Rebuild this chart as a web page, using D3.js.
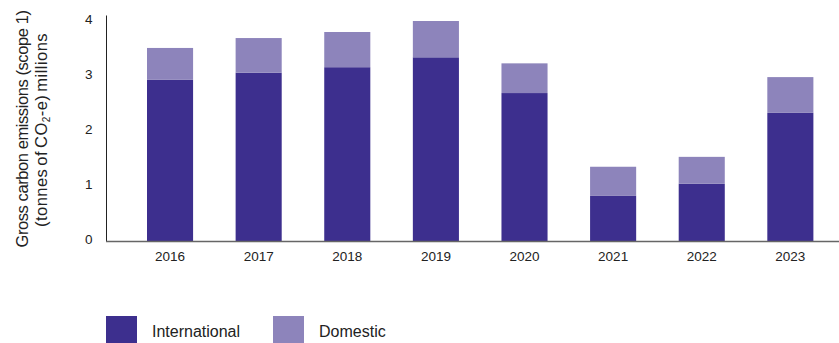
<!DOCTYPE html>
<html>
<head>
<meta charset="utf-8">
<script src="https://cdn.jsdelivr.net/npm/d3@7"></script>
<style>
  body { margin: 0; background: #fff; }
  svg { font-family: "Liberation Sans", Arial, sans-serif; }
</style>
</head>
<body>
<svg id="chart" width="839" height="343"></svg>
<script>
const years = ["2016", "2017", "2018", "2019", "2020", "2021", "2022", "2023"];
const international = [2.93, 3.06, 3.16, 3.34, 2.69, 0.82, 1.04, 2.33];
const domestic = [0.58, 0.63, 0.64, 0.66, 0.54, 0.53, 0.49, 0.65];
const yTicks = [0, 1, 2, 3, 4];
const seriesNames = ["International", "Domestic"];
const colors = ["#3d2f8e", "#8d84bb"];

const svg = d3.select("#chart");

const x = d3.scaleBand()
  .domain(years)
  .range([102.7, 857.7])
  .paddingInner(0.48)
  .paddingOuter(0.5);

const y = d3.scaleLinear()
  .domain([0, 4])
  .range([241, 21]);

const rows = years.map((yr, i) => ({ year: yr, International: international[i], Domestic: domestic[i] }));
const stacked = d3.stack().keys(seriesNames)(rows);

// bars
svg.append("g").selectAll("g")
  .data(stacked)
  .join("g")
  .attr("fill", (d, i) => colors[i])
  .selectAll("rect")
  .data(d => d)
  .join("rect")
  .attr("x", d => x(d.data.year))
  .attr("y", d => y(d[1]))
  .attr("height", d => y(d[0]) - y(d[1]))
  .attr("width", x.bandwidth());

// y axis
const yAxis = d3.axisLeft(y).tickValues(yTicks).tickFormat(d3.format("d")).tickSize(0).tickPadding(14);
const gy = svg.append("g")
  .attr("transform", "translate(106.5,-1.5)")
  .call(yAxis);
gy.select(".domain").remove();
gy.selectAll("text")
  .attr("font-size", 13.5)
  .attr("fill", "#222")
  .attr("font-family", "Liberation Sans, Arial, sans-serif");

svg.append("line")
  .attr("x1", 106.5).attr("x2", 106.5)
  .attr("y1", 15.5).attr("y2", 241.5)
  .attr("stroke", "#222").attr("stroke-width", 1);

// x axis
const xAxis = d3.axisBottom(x).tickSize(0).tickPadding(10);
const gx = svg.append("g")
  .attr("transform", "translate(0,241.5)")
  .call(xAxis);
gx.select(".domain").remove();
gx.selectAll("text")
  .attr("font-size", 13.5)
  .attr("fill", "#222")
  .attr("font-family", "Liberation Sans, Arial, sans-serif");

svg.append("line")
  .attr("x1", 106).attr("x2", 839)
  .attr("y1", 241.5).attr("y2", 241.5)
  .attr("stroke", "#666").attr("stroke-width", 1.5);

// y title, two lines; letter spacing tuned so each line has the length seen in the picture
function fitLine(sel, target, nChars) {
  const natural = sel.node().getComputedTextLength();
  sel.attr("letter-spacing", (target - natural) / nChars);
}

const titleG = svg.append("g").attr("transform", "rotate(-90)");
const t1 = titleG.append("text")
  .attr("x", -129).attr("y", 28)
  .attr("text-anchor", "middle")
  .attr("font-size", 16.5)
  .attr("fill", "#222")
  .text("Gross carbon emissions (scope 1)");
fitLine(t1, 237, 32);

const t2 = titleG.append("text")
  .attr("x", -130).attr("y", 46.5)
  .attr("text-anchor", "middle")
  .attr("font-size", 16.5)
  .attr("fill", "#222")
  .attr("word-spacing", -2);
t2.append("tspan").text("(tonnes of CO");
t2.append("tspan").attr("font-size", 10).attr("dy", 3.5).text("2");
t2.append("tspan").attr("dy", -3.5).text("-e) millions");
fitLine(t2, 194, 26);

// legend
const legend = svg.append("g").selectAll("g")
  .data(seriesNames)
  .join("g")
  .attr("transform", (d, i) => `translate(${106 + i * 167},316)`);
legend.append("rect")
  .attr("width", 31).attr("height", 27)
  .attr("fill", (d, i) => colors[i]);
legend.append("text")
  .attr("x", 46).attr("y", 16)
  .attr("dy", "0.32em")
  .attr("font-size", 16)
  .attr("fill", "#222")
  .text(d => d);
</script>
</body>
</html>
